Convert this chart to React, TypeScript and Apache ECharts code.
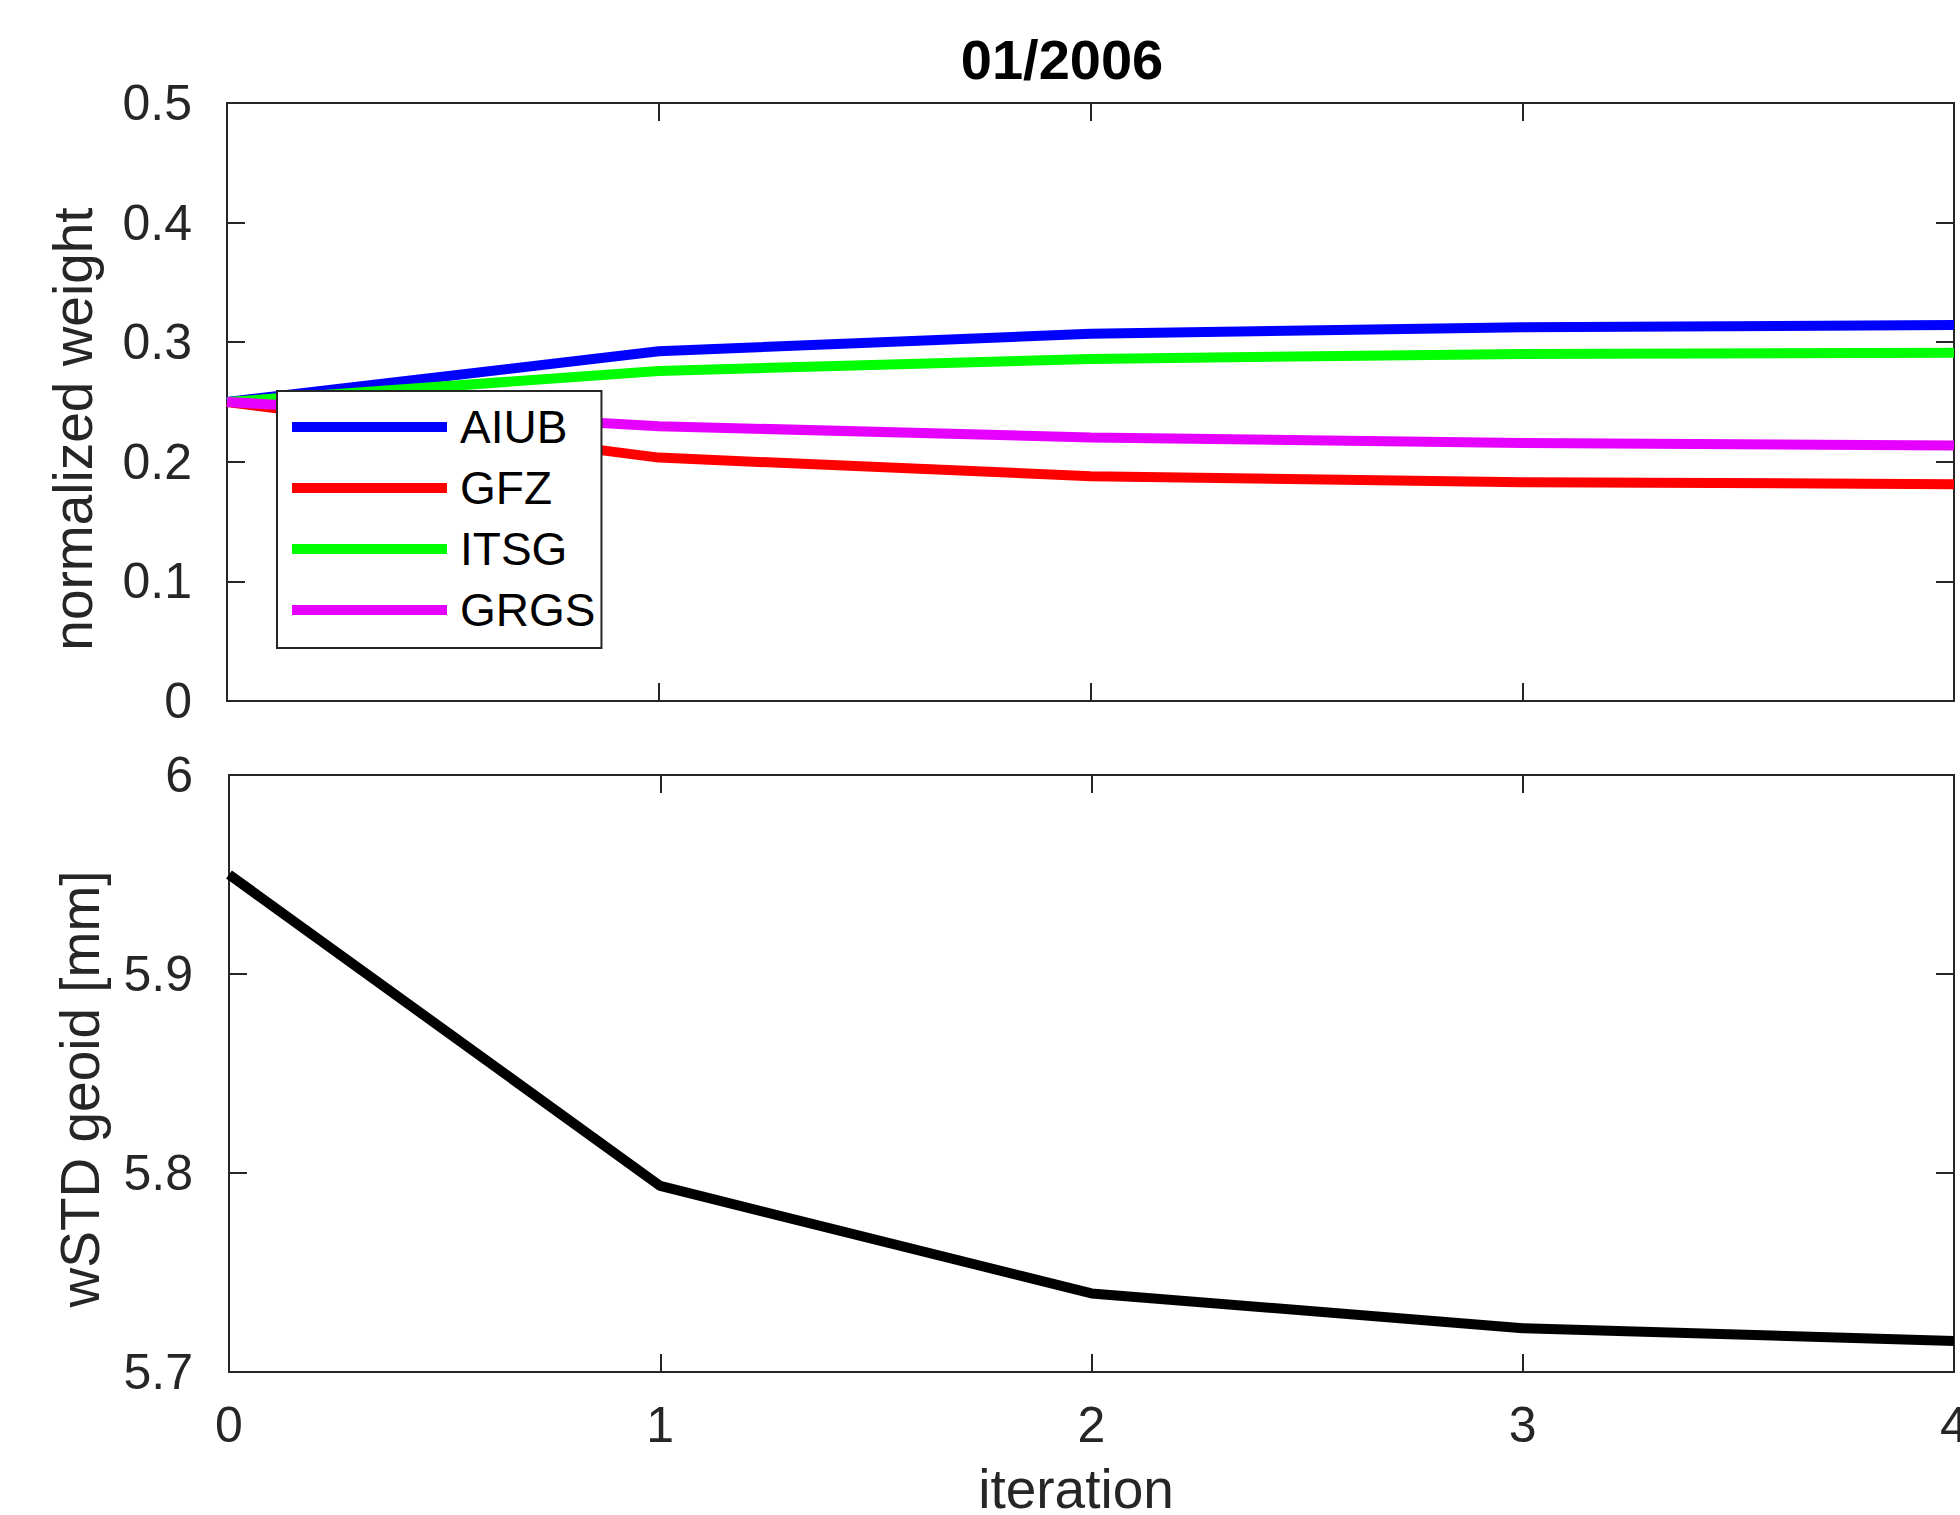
import React, { useEffect, useRef } from "react";
import * as echarts from "echarts";

const iterations = [0, 1, 2, 3, 4];
const seriesNames = ["AIUB", "GFZ", "ITSG", "GRGS"];
const aiub = [0.25, 0.2925, 0.307, 0.3125, 0.3143];
const gfz = [0.25, 0.2035, 0.188, 0.183, 0.1813];
const itsg = [0.25, 0.276, 0.286, 0.2902, 0.2912];
const grgs = [0.25, 0.2298, 0.2203, 0.2157, 0.2136];
const wstd = [5.95, 5.7935, 5.7395, 5.722, 5.7156];
const weightTicks = [0, 0.1, 0.2, 0.3, 0.4, 0.5];
const wstdTicks = [5.7, 5.8, 5.9, 6];
const seriesColors = ["#0000ff", "#ff0000", "#00ff00", "#e600ff"];

const FONT = "'Liberation Sans', Arial, Helvetica, sans-serif";
const AX = "#262626";

export default function App() {
  const ref = useRef<HTMLDivElement>(null);
  useEffect(() => {
    if (!ref.current) return;
    const chart = echarts.init(ref.current, undefined, { renderer: "svg" });
    const weightData = [aiub, gfz, itsg, grgs];
    const pairs = (arr: number[]) => iterations.map((x, i) => [x, arr[i]]);
    const fmt = (v: number) => {
      const r = Math.round(v * 10) / 10;
      return r === 0 ? "0" : String(r);
    };
    const axisLine = { show: true, onZero: false, lineStyle: { color: AX, width: 2 } };
    const tick = { show: true, inside: true, length: 18, lineStyle: { color: AX, width: 2 } };
    const labelStyle = { color: AX, fontSize: 50, fontFamily: FONT };

    const xAxisBase = (grid: number, position: string, showLabel: boolean) => ({
      type: "value",
      gridIndex: grid,
      position,
      min: 0,
      max: 4,
      interval: 1,
      axisLine,
      axisTick: tick,
      splitLine: { show: false },
      axisLabel: showLabel
        ? { ...labelStyle, margin: 28, formatter: (v: number) => String(Math.round(v)) }
        : { show: false },
    });
    const yAxisBase = (grid: number, position: string, showLabel: boolean, min: number, max: number, margin: number) => ({
      type: "value",
      gridIndex: grid,
      position,
      min,
      max,
      interval: 0.1,
      axisLine,
      axisTick: tick,
      splitLine: { show: false },
      axisLabel: showLabel ? { ...labelStyle, margin, formatter: fmt } : { show: false },
    });

    const textStyleCommon = {
      fontFamily: FONT,
      align: "center",
      verticalAlign: "middle",
      textAlign: "center",
      textVerticalAlign: "middle",
    };

    chart.setOption({
      animation: false,
      backgroundColor: "#ffffff",
      grid: [
        { left: 227, top: 103, width: 1727, height: 598, outerBoundsMode: "none", containLabel: false },
        { left: 229, top: 775, width: 1725, height: 597, outerBoundsMode: "none", containLabel: false },
      ],
      xAxis: [
        xAxisBase(0, "bottom", false),
        xAxisBase(0, "top", false),
        xAxisBase(1, "bottom", true),
        xAxisBase(1, "top", false),
      ],
      yAxis: [
        yAxisBase(0, "left", true, weightTicks[0], weightTicks[weightTicks.length - 1], 35),
        yAxisBase(0, "right", false, weightTicks[0], weightTicks[weightTicks.length - 1], 35),
        yAxisBase(1, "left", true, wstdTicks[0], wstdTicks[wstdTicks.length - 1], 36),
        yAxisBase(1, "right", false, wstdTicks[0], wstdTicks[wstdTicks.length - 1], 36),
      ],
      legend: {
        show: true,
        orient: "vertical",
        left: 277,
        top: 391,
        padding: [13, 6, 15, 15],
        itemGap: 15,
        itemWidth: 155,
        itemHeight: 10,
        icon: "rect",
        backgroundColor: "#ffffff",
        borderColor: AX,
        borderWidth: 2,
        data: seriesNames,
        textStyle: { color: "#000000", fontSize: 46, fontFamily: FONT, lineHeight: 46, padding: [0, 0, 0, 8] },
      },
      graphic: [
        {
          type: "text",
          x: 1062,
          y: 59,
          style: { ...textStyleCommon, text: "01/2006", fontSize: 56, fontWeight: "bold", fill: "#000000", lineHeight: 56 },
        },
        {
          type: "text",
          x: 73,
          y: 429,
          rotation: Math.PI / 2,
          style: { ...textStyleCommon, text: "normalized weight", fontSize: 55, fill: AX, lineHeight: 55 },
        },
        {
          type: "text",
          x: 80,
          y: 1089,
          rotation: Math.PI / 2,
          style: { ...textStyleCommon, text: "wSTD geoid [mm]", fontSize: 55, fill: AX, lineHeight: 55 },
        },
        {
          type: "text",
          x: 1076,
          y: 1489,
          style: { ...textStyleCommon, text: "iteration", fontSize: 55, fill: AX, lineHeight: 46 },
        },
      ],
      series: [
        ...seriesNames.map((name, i) => ({
          name,
          type: "line",
          xAxisIndex: 0,
          yAxisIndex: 0,
          data: pairs(weightData[i]),
          showSymbol: false,
          symbol: "none",
          lineStyle: { color: seriesColors[i], width: 10 },
          itemStyle: { color: seriesColors[i] },
          z: 2,
        })),
        {
          name: "wSTD",
          type: "line",
          xAxisIndex: 2,
          yAxisIndex: 2,
          data: pairs(wstd),
          showSymbol: false,
          symbol: "none",
          lineStyle: { color: "#000000", width: 10 },
          itemStyle: { color: "#000000" },
        },
      ],
    });
    return () => chart.dispose();
  }, []);
  return (
    <div
      ref={ref}
      style={{ position: "fixed", left: 0, top: 0, width: 1960, height: 1515, background: "#fff" }}
    />
  );
}
